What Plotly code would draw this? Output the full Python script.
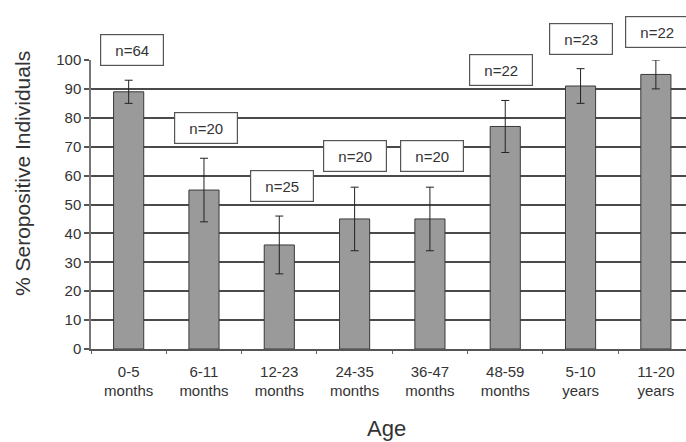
import plotly.graph_objects as go

categories = ["0-5<br>months", "6-11<br>months", "12-23<br>months", "24-35<br>months",
              "36-47<br>months", "48-59<br>months", "5-10<br>years", "11-20<br>years"]
seropositive = [89, 55, 36, 45, 45, 77, 91, 95]
error = [4, 11, 10, 11, 11, 9, 6, 5]
n_counts = [64, 20, 25, 20, 20, 22, 23, 22]
y_ticks = [0, 10, 20, 30, 40, 50, 60, 70, 80, 90, 100]

# label placement (data units)
label_x_shift = [0.04, 0.03, 0.04, 0.01, 0.03, -0.05, 0.0, 0.02]
label_y = [103.5, 76.3, 56.4, 66.8, 66.8, 96.7, 107.4, 109.7]

xs = list(range(len(categories)))
Y_MAX = 100

fig = go.Figure()
fig.add_trace(go.Bar(
    x=xs, y=seropositive, width=0.4,
    marker=dict(color="#9a9a9a", line=dict(color="#3a3a3a", width=1)),
    error_y=dict(type="data", array=error, visible=True, color="#222222",
                 thickness=1, width=4),
    showlegend=False,
))

FONT = "Liberation Sans, Arial, sans-serif"
for i, n in enumerate(n_counts):
    fig.add_annotation(
        x=xs[i] + label_x_shift[i], y=label_y[i] / Y_MAX, xref="x", yref="paper",
        xanchor="center", yanchor="middle",
        text=f"n={n}", showarrow=False,
        font=dict(family=FONT, size=15, color="#333333"),
        bgcolor="white", bordercolor="#555555", borderwidth=1.2,
        borderpad=0, width=62, height=30,
    )

W, H = 686, 442
ml, mr, mt, mb = 91, 0, 60, 93
pw, ph = W - ml - mr, H - mt - mb

def px_to_paper(xp, yp):
    return (xp - ml) / pw, (H - yp - mb) / ph

tx, ty = px_to_paper(22, 174)
fig.add_annotation(
    x=tx, y=ty, xref="paper", yref="paper", text="% Seropositive Individuals",
    xanchor="center", yanchor="middle", textangle=-90, showarrow=False,
    font=dict(family=FONT, size=21, color="#333333"),
)
ax_, ay_ = px_to_paper(386, 428)
fig.add_annotation(
    x=ax_, y=ay_, xref="paper", yref="paper", text="Age",
    xanchor="center", yanchor="middle", showarrow=False,
    font=dict(family=FONT, size=22, color="#333333"),
)

fig.update_layout(
    width=W, height=H,
    margin=dict(l=ml, r=mr, t=mt, b=mb),
    paper_bgcolor="white", plot_bgcolor="white",
    font=dict(family=FONT, size=15, color="#333333"),
    xaxis=dict(
        range=[-0.5, 7.40], tickmode="array", tickvals=xs, ticktext=categories,
        showgrid=False, showline=True, linecolor="#555555", linewidth=1.5,
        ticks="", tickfont=dict(size=15), ticklabelstandoff=8,
        minor=dict(tickmode="array", tickvals=[k + 0.5 for k in range(-1, 8)],
                   ticks="outside", ticklen=3, tickcolor="#666666", showgrid=False),
        zeroline=False,
    ),
    yaxis=dict(
        range=[0, Y_MAX], tickmode="array", tickvals=y_ticks,
        showgrid=True, gridcolor="#4a4a4a", gridwidth=1.5,
        showline=True, linecolor="#777777", linewidth=1.5,
        ticks="outside", ticklen=5, tickcolor="#555555", tickwidth=1.5,
        tickfont=dict(size=15), zeroline=False,
    ),
)

fig.write_html("out.html")
